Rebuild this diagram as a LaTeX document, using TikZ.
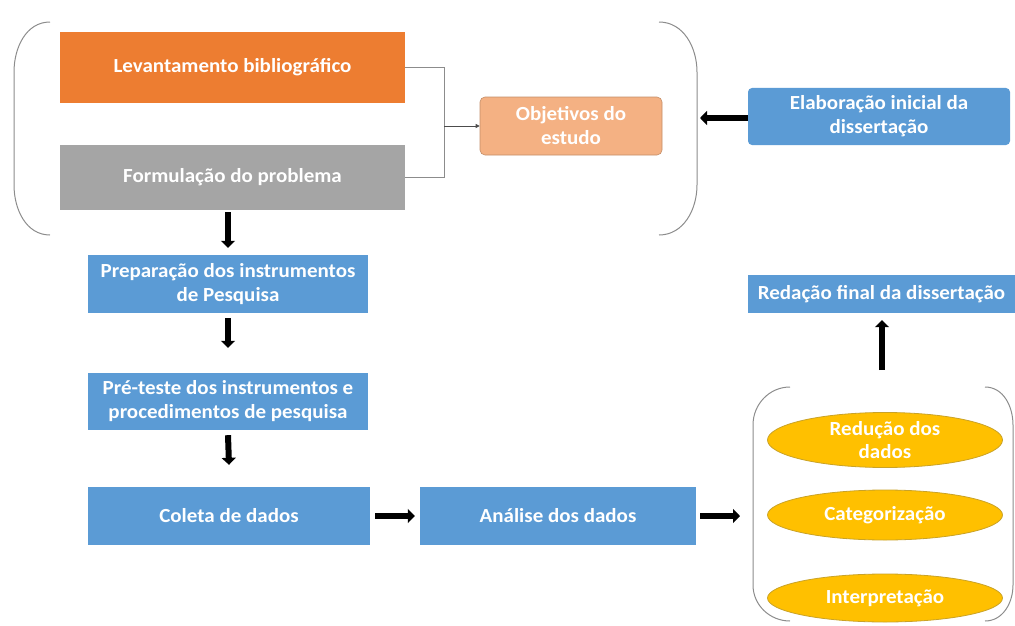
\documentclass[tikz,border=0pt]{standalone}
\usepackage{fontspec}
\setmainfont{Carlito}[FakeStretch=1.05]
\usetikzlibrary{arrows.meta,shapes.geometric}
\definecolor{cblue}{HTML}{5B9BD5}
\definecolor{corange}{HTML}{ED7D31}
\definecolor{cgray}{HTML}{A5A5A5}
\definecolor{clorange}{HTML}{F4B183}
\definecolor{cyellow}{HTML}{FFC000}
\definecolor{cyedge}{HTML}{C9A227}
\definecolor{cbrack}{HTML}{8C8C8C}
\tikzset{
  box/.style={draw=none, text=white, font=\bfseries\fontsize{20}{24}\selectfont, align=center, inner sep=2pt},
  bluebox/.style={box, fill=cblue},
  roundbox/.style={box, rounded corners=5pt},
  ell/.style={ellipse, fill=cyellow, draw=cyedge, line width=0.8pt, text=white, font=\bfseries\fontsize{20}{23}\selectfont, align=center, inner sep=0pt},
  bigarrow/.style={line width=6pt, -{Triangle[width=14pt,length=7pt]}},
  thin/.style={draw=cbrack, line width=0.8pt},
  brack/.style={draw=cbrack, line width=1pt},
}
\begin{document}
\begin{tikzpicture}[x=1pt,y=-1pt]
\useasboundingbox (0,0) rectangle (1015,626);
\node[box, fill=corange, minimum width=345pt, minimum height=71pt] (lev) at (232.5,67.5) {Levantamento bibliográfico};
\node[box, fill=cgray, minimum width=345pt, minimum height=65pt] (form) at (232.5,177.5) {Formulação do problema};
\node[roundbox, fill=clorange, draw=clorange!80!black, line width=0.6pt, minimum width=182pt, minimum height=58pt] (obj) at (571,126) {Objetivos do\\estudo};
\node[bluebox, rounded corners=4pt, minimum width=262pt, minimum height=57pt] (elab) at (879,116.5) {Elaboração inicial da\\dissertação};
\node[bluebox, minimum width=280pt, minimum height=58pt] (prep) at (228,284) {Preparação dos instrumentos\\de Pesquisa};
\node[bluebox, minimum width=280pt, minimum height=57pt] (pre) at (228,401.5) {Pré-teste dos instrumentos e\\procedimentos de pesquisa};
\node[bluebox, minimum width=282pt, minimum height=58pt] (col) at (229,516) {Coleta de dados};
\node[bluebox, minimum width=276pt, minimum height=58pt] (ana) at (558,516) {Análise dos dados};
\node[bluebox, minimum width=267pt, minimum height=38pt] (red) at (881.5,294) {Redação final da dissertação};
\node[ell, minimum width=235pt, minimum height=55pt] (e1) at (885,440) {Redução dos\\dados};
\node[ell, minimum width=235pt, minimum height=50pt] (e2) at (885,515) {Categorização};
\node[ell, minimum width=235pt, minimum height=48pt] (e3) at (885,598) {Interpretação};
% brackets
\draw[brack] (50,22) to[out=180,in=90] (14,72) -- (14,185) to[out=-90,in=180] (50,235);
\draw[brack] (659,22) to[out=0,in=90] (697,72) -- (697,185) to[out=-90,in=0] (659,235);
\draw[brack] (790,387) to[out=180,in=90] (753,425) -- (753,585) to[out=-90,in=180] (790,621);
\draw[brack] (985,387) to[out=0,in=90] (1013,425) -- (1013,585) to[out=-90,in=0] (985,621);
% thin connectors
\coordinate (j) at (444,126);
\draw[thin] (lev.east) -| (j);
\draw[thin] (form.east) -| (j);
\draw[thin, -{Triangle[width=4pt,length=4pt]}, draw=black!70] (j) -- (obj.west);
% big arrows
\coordinate (elabend) at (700,118);
\draw[bigarrow] (elab.west |- elabend) -- (elabend);
\draw[bigarrow] ([yshift=-2pt]form.south -| prep.north) -- ([yshift=7pt]prep.north);
\draw[bigarrow] ([yshift=-5pt]prep.south) -- ([yshift=25pt]pre.north);
\draw[bigarrow] ([yshift=-5pt]pre.south) -- ([yshift=22pt]col.north);
\draw[bigarrow] ([xshift=5pt]col.east) -- ([xshift=-5pt]ana.west);
\coordinate (anaend) at (740,516);
\draw[bigarrow] ([xshift=4pt]ana.east) -- (anaend);
\coordinate (redbot) at (882,370);
\draw[bigarrow] (redbot) -- ([yshift=-7pt]red.south -| redbot);
\end{tikzpicture}
\end{document}
